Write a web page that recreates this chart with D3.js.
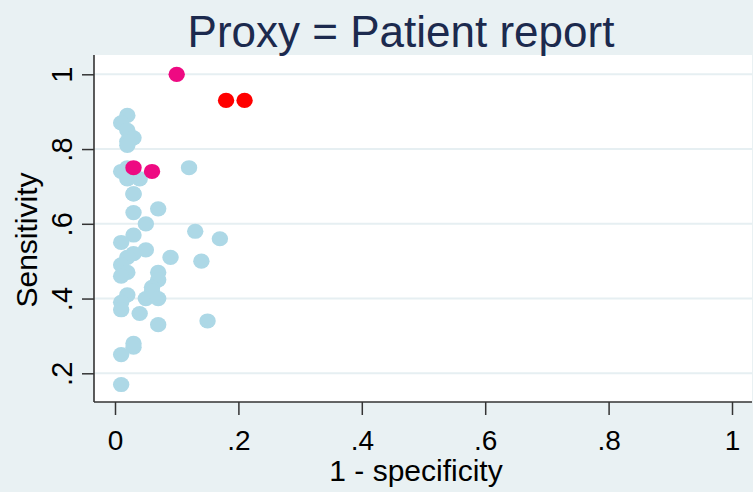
<!DOCTYPE html>
<html>
<head>
<meta charset="utf-8">
<script src="https://cdn.jsdelivr.net/npm/d3@7"></script>
<style>
  html, body { margin: 0; padding: 0; background: #e9f1f3; }
  svg { display: block; }
  text { font-family: "Liberation Sans", Arial, Helvetica, sans-serif; }
</style>
</head>
<body>
<svg id="chart" width="753" height="492"></svg>
<script>
// ---- data ----
const titleText = "Proxy = Patient report";
const xTitle = "1 - specificity";
const yTitle = "Sensitivity";
const xTicks = [0, 0.2, 0.4, 0.6, 0.8, 1];
const yTicks = [0.2, 0.4, 0.6, 0.8, 1];
const xTickLabels = ["0", ".2", ".4", ".6", ".8", "1"];
const yTickLabels = [".2", ".4", ".6", ".8", "1"];

// light blue points (1 - specificity, sensitivity)
const blueX = [0.02, 0.01, 0.02, 0.03, 0.02, 0.02,
               0.01, 0.02, 0.12, 0.02, 0.04, 0.03,
               0.03, 0.03, 0.07, 0.05, 0.13, 0.17, 0.03, 0.01,
               0.05, 0.03, 0.09, 0.14, 0.02, 0.01, 0.02, 0.01,
               0.07, 0.07, 0.06, 0.06, 0.02, 0.05, 0.07, 0.01,
               0.01, 0.04, 0.07, 0.15, 0.03, 0.03, 0.01, 0.01];
const blueY = [0.89, 0.87, 0.85, 0.83, 0.82, 0.81,
               0.74, 0.75, 0.75, 0.72, 0.72, 0.68,
               0.68, 0.63, 0.64, 0.60, 0.58, 0.56, 0.57, 0.55,
               0.53, 0.52, 0.51, 0.50, 0.51, 0.49, 0.47, 0.46,
               0.47, 0.45, 0.43, 0.42, 0.41, 0.40, 0.40, 0.39,
               0.37, 0.36, 0.33, 0.34, 0.28, 0.27, 0.25, 0.17];
// pink points
const pinkX = [0.10, 0.03, 0.06];
const pinkY = [1.00, 0.75, 0.74];
// red points
const redX = [0.18, 0.21];
const redY = [0.93, 0.93];

// ---- layout ----
const W = 753, H = 492;
const plot = { left: 94, right: 752, top: 55, bottom: 402 };
const svg = d3.select("#chart");

const x = d3.scaleLinear().domain([0, 1]).range([115, 732]);
const y = d3.scaleLinear().domain([0.2, 1]).range([373.3, 74.3]);

// background
svg.append("rect").attr("x", 0).attr("y", 0).attr("width", W).attr("height", H).attr("fill", "#e9f1f3");
svg.append("rect").attr("x", plot.left).attr("y", plot.top)
  .attr("width", plot.right - plot.left).attr("height", plot.bottom - plot.top)
  .attr("fill", "#ffffff");

// grid lines
svg.append("g").selectAll("line").data(yTicks).join("line")
  .attr("x1", plot.left).attr("x2", plot.right)
  .attr("y1", d => y(d)).attr("y2", d => y(d))
  .attr("stroke", "#e6eff2").attr("stroke-width", 2);

// points
function drawPoints(xs, ys, color) {
  svg.append("g").selectAll("ellipse").data(xs.map((v, i) => [v, ys[i]])).join("ellipse")
    .attr("cx", d => x(d[0])).attr("cy", d => y(d[1]))
    .attr("rx", 8.2).attr("ry", 7.6)
    .attr("fill", color);
}
drawPoints(blueX, blueY, "#add8e6");
drawPoints(pinkX, pinkY, "#ee0a82");
drawPoints(redX, redY, "#ff0000");

// axes
const axisColor = "#333333";
const xAxis = d3.axisBottom(x).tickValues(xTicks).tickSize(13)
  .tickFormat((d, i) => xTickLabels[i]);
const gx = svg.append("g").attr("transform", `translate(0,${plot.bottom})`).call(xAxis);
gx.select(".domain").remove();
gx.selectAll(".tick line").attr("stroke", axisColor).attr("stroke-width", 1.5);
gx.selectAll(".tick text").attr("y", 48).attr("dy", 0)
  .attr("fill", "#000").style("font-size", "28px")
  .style("font-family", '"Liberation Sans", Arial, sans-serif');

const yAxis = d3.axisLeft(y).tickValues(yTicks).tickSize(12)
  .tickFormat((d, i) => yTickLabels[i]);
const gy = svg.append("g").attr("transform", `translate(${plot.left},0)`).call(yAxis);
gy.select(".domain").remove();
gy.selectAll(".tick line").attr("stroke", axisColor).attr("stroke-width", 1.5);
gy.selectAll(".tick text")
  .attr("transform", "rotate(-90)")
  .attr("x", 0).attr("y", -22).attr("dy", 0)
  .attr("text-anchor", "middle")
  .attr("fill", "#000").style("font-size", "29px")
  .style("font-family", '"Liberation Sans", Arial, sans-serif');

// axis lines
svg.append("line").attr("x1", plot.left).attr("x2", plot.right)
  .attr("y1", plot.bottom).attr("y2", plot.bottom)
  .attr("stroke", axisColor).attr("stroke-width", 1.6);
svg.append("line").attr("x1", plot.left).attr("x2", plot.left)
  .attr("y1", plot.top).attr("y2", plot.bottom)
  .attr("stroke", axisColor).attr("stroke-width", 1.6);

// titles
svg.append("text").attr("x", 401).attr("y", 47)
  .attr("text-anchor", "middle").attr("fill", "#1c2a4e")
  .style("font-size", "44px").text(titleText);

svg.append("text").attr("x", 416).attr("y", 481)
  .attr("text-anchor", "middle").attr("fill", "#000")
  .style("font-size", "30px").text(xTitle);

svg.append("text").attr("transform", "translate(37,240) rotate(-90)")
  .attr("text-anchor", "middle").attr("fill", "#000")
  .style("font-size", "30px").text(yTitle);
</script>
</body>
</html>
